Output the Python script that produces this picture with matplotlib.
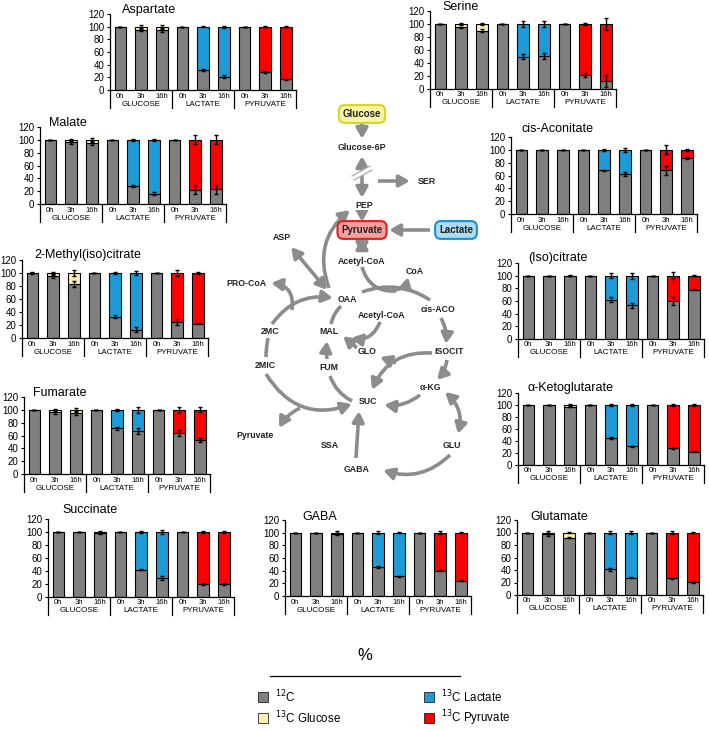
import matplotlib.pyplot as plt
from matplotlib.patches import FancyArrowPatch, Rectangle
import numpy as np

plt.rcParams['font.family'] = ['Liberation Sans', 'DejaVu Sans']

W, H = 709, 730

times = ['0h', '3h', '16h'] * 3
groups = ['GLUCOSE', 'LACTATE', 'PYRUVATE']
legend_labels = ['$^{12}$C', '$^{13}$C Glucose', '$^{13}$C Lactate', '$^{13}$C Pyruvate']
colors = ['#7f7f7f', '#fbeeb0', '#1e9bd7', '#ff0000']

# % 12C for each bar (glucose 0h,3h,16h | lactate ... | pyruvate ...); the rest is 13C from the tracer
aspartate = [100, 95, 94, 100, 31, 21, 100, 28, 17]
aspartate_err = [0, 2, 2, 0, 1.5, 2, 0, 1.5, 1]
aspartate_top = [0, 2, 2, 0, 1, 1.5, 0, 1, 1]

serine = [100, 95, 90, 100, 50, 51, 100, 22, 12]
serine_err = [0, 1, 2, 0, 4, 5, 0, 3, 9]
serine_top = [0, 1, 2, 0, 4, 5, 0, 2, 9]

malate = [100, 97, 95, 100, 28, 16, 100, 22, 23]
malate_err = [0, 3, 3, 0, 2, 2, 0, 7, 7]
malate_top = [0, 2, 3, 0, 2, 2, 0, 7, 7]

cis_aconitate = [100, 100, 100, 100, 68, 63, 100, 68, 87]
cis_aconitate_err = [0, 0, 0, 0, 1, 3, 0, 7, 2]
cis_aconitate_top = [0, 0, 0, 0, 2, 3, 0, 7, 2]

methylcitrate = [100, 95, 83, 100, 33, 13, 100, 25, 22]
methylcitrate_err = [1, 2, 5, 0, 2, 4, 0, 5, 1]
methylcitrate_top = [0, 2, 5, 0, 2, 3, 0, 4, 1]

isocitrate = [100, 100, 100, 100, 62, 53, 100, 60, 78]
isocitrate_err = [0, 0, 0, 0, 4, 4, 0, 6, 1]
isocitrate_top = [0, 0, 1, 0, 4, 5, 0, 6, 1]

fumarate = [100, 96, 95, 100, 71, 67, 100, 64, 53]
fumarate_err = [0, 2, 3, 0, 2, 5, 0, 4, 3]
fumarate_top = [0, 2, 3, 0, 2, 5, 0, 5, 4]

ketoglutarate = [100, 100, 97, 100, 45, 31, 100, 28, 22]
ketoglutarate_err = [0, 0, 1, 0, 1, 1, 0, 1, 1]
ketoglutarate_top = [0, 0, 1, 0, 1, 1, 0, 1, 1]

succinate = [100, 100, 98, 100, 42, 29, 100, 20, 20]
succinate_err = [0, 0, 1, 0, 1, 3, 0, 1, 1]
succinate_top = [0, 0, 1, 0, 2, 3, 0, 1, 1]

gaba = [100, 100, 98, 100, 46, 31, 100, 40, 24]
gaba_err = [0, 0, 2, 0, 1, 1, 0, 1, 1]
gaba_top = [0, 0, 2, 0, 2, 1, 0, 2, 1]

glutamate = [100, 97, 92, 100, 41, 28, 100, 27, 21]
glutamate_err = [0, 2, 1, 0, 2, 1, 0, 1, 1]
glutamate_top = [0, 2, 1, 0, 3, 2, 0, 2, 1]

# name, values, errors, y-axis x px, 120-line px, 0-line px, title pos px
panels = [
    ('Aspartate', aspartate, aspartate_err, aspartate_top, 110, 14, 90, (122, 10)),
    ('Serine', serine, serine_err, serine_top, 430, 11, 89, (442, 7)),
    ('Malate', malate, malate_err, malate_top, 40, 127, 204, (49, 123)),
    ('cis-Aconitate', cis_aconitate, cis_aconitate_err, cis_aconitate_top, 511, 137, 214, (522, 129)),
    ('2-Methyl(iso)citrate', methylcitrate, methylcitrate_err, methylcitrate_top, 22, 260, 338, (34, 255)),
    ('(Iso)citrate', isocitrate, isocitrate_err, isocitrate_top, 518, 263, 339, (528, 258)),
    ('Fumarate', fumarate, fumarate_err, fumarate_top, 24, 397, 474, (33, 393)),
    ('α-Ketoglutarate', ketoglutarate, ketoglutarate_err, ketoglutarate_top, 518, 393, 465, (528, 388)),
    ('Succinate', succinate, succinate_err, succinate_top, 48, 519, 597, (62, 510)),
    ('GABA', gaba, gaba_err, gaba_top, 285, 520, 596, (302, 517)),
    ('Glutamate', glutamate, glutamate_err, glutamate_top, 517, 520, 595, (530, 517)),
]

fig = plt.figure(figsize=(W / 100, H / 100), dpi=100)

# overlay for the pathway scheme and the legend
ov = fig.add_axes([0, 0, 1, 1])
ov.set_xlim(0, W)
ov.set_ylim(H, 0)
ov.axis('off')

GREY = '#8c8c8c'


def arrow(p0, p1, rad=0.0, style='-|>'):
    if style != '-':
        style = style + ',head_length=0.45,head_width=0.25'
    ov.add_patch(FancyArrowPatch(p0, p1, connectionstyle=f'arc3,rad={rad}', arrowstyle=style,
                                 mutation_scale=14, color=GREY, lw=2.6, shrinkA=0, shrinkB=0,
                                 capstyle='butt'))


# main axis glucose -> pyruvate
arrow((362, 122), (362, 139))
arrow((362, 156), (362, 198), style='<|-|>')
ov.plot([353, 371], [178, 168], color='white', lw=4)
ov.plot([352, 370], [176, 166], color='#a0a0a0', lw=0.8)
ov.plot([354, 372], [180, 170], color='#a0a0a0', lw=0.8)
arrow((378, 181), (410, 181))
arrow((362, 211), (362, 222))
arrow((430, 230), (389, 230))
arrow((362, 238), (362, 254), style='<|-|>')
arrow((362, 267), (396, 291), rad=0.4, style='-')
arrow((392, 290), (408, 277), rad=0.4)
# TCA cycle
arrow((362, 292), (430, 300), rad=-0.25, style='-')
arrow((441, 318), (446, 344), rad=-0.15)
arrow((447, 360), (437, 380), rad=-0.15)
arrow((420, 395), (384, 405), rad=-0.2)
arrow((352, 401), (330, 376), rad=-0.2, style='-')
arrow((327, 359), (327, 341), rad=-0.05)
arrow((331, 324), (341, 306), rad=-0.15, style='-')
# methylcitrate cycle
arrow((272, 324), (333, 298), rad=-0.3)
arrow((292, 310), (271, 283), rad=0.5)
arrow((268, 338), (266, 357), rad=0.05, style='-')
arrow((266, 374), (352, 404), rad=0.4)
arrow((300, 408), (279, 428), rad=0.15)
# glyoxylate shunt
arrow((432, 353), (372, 390), rad=0.35)
arrow((396, 363), (380, 357))
arrow((357, 348), (343, 336))
arrow((380, 322), (351, 338), rad=-0.4)
# side branches
arrow((329, 288), (350, 210), rad=-0.35)
arrow((291, 247), (327, 290), style='<|-|>')
arrow((445, 392), (458, 434), rad=-0.3, style='<|-|>')
arrow((450, 455), (383, 470), rad=-0.3)
arrow((356, 458), (359, 411))

nodes = [('Glucose-6P', 362, 148), ('SER', 427, 181), ('PEP', 364, 205), ('ASP', 282, 237),
         ('Acetyl-CoA', 362, 261), ('CoA', 415, 272), ('PRO-CoA', 246, 283), ('OAA', 347, 299),
         ('cis-ACO', 438, 310), ('Acetyl-CoA', 382, 316), ('2MC', 270, 331), ('MAL', 329, 332),
         ('GLO', 367, 352), ('ISOCIT', 449, 352), ('2MIC', 265, 365), ('FUM', 329, 367),
         ('α-KG', 430, 388), ('SUC', 368, 402), ('Pyruvate', 255, 435), ('SSA', 330, 446),
         ('GLU', 452, 445), ('GABA', 357, 470)]
for txt, x, y in nodes:
    ov.text(x, y, txt, ha='center', va='center', fontsize=6.3, fontweight='bold', color='#222222',
            bbox=dict(boxstyle='square,pad=0.1', fc='white', ec='none'))

boxes = [('Glucose', 362, 114, '#f6f6a6', '#d6d61e'),
         ('Pyruvate', 362, 230, '#f4a0a0', '#e02020'),
         ('Lactate', 456, 230, '#b0dcf2', '#1e8fd0')]
for txt, x, y, fc, ec in boxes:
    ov.text(x, y, txt, ha='center', va='center', fontsize=7, fontweight='bold', color='#222222',
            bbox=dict(boxstyle='round,pad=0.4,rounding_size=0.6', fc=fc, ec=ec, lw=1.5))

# legend
ov.text(365, 655, '%', ha='center', va='center', fontsize=12)
ov.plot([270, 460], [676, 676], color='black', lw=0.9)
legend_pos = [(258, 692), (258, 713), (424, 692), (424, 713)]
for lab, col, (x, y) in zip(legend_labels, colors, legend_pos):
    ov.add_patch(Rectangle((x, y), 10, 10, fc=col, ec='black', lw=0.5))
    ov.text(x + 17, y + 5, lab, ha='left', va='center', fontsize=8.3)

x = np.arange(9)
for name, vals, err, top, ax_x, top_px, bot_px, (tx, ty) in panels:
    hpx = bot_px - top_px
    wpx = 9 * 20.7
    ax = fig.add_axes([ax_x / W, 1 - bot_px / H, wpx / W, hpx / H])
    vals = np.array(vals, dtype=float)
    top_cols = [colors[1 + i // 3] for i in range(9)]
    ax.bar(x, vals, width=0.56, color=colors[0], edgecolor='black', lw=0.8, zorder=2)
    ax.bar(x, 100 - vals, bottom=vals, width=0.56, color=top_cols, edgecolor='black', lw=0.8, zorder=2)
    ax.errorbar(x, vals, yerr=err, fmt='none', ecolor='black', elinewidth=1, capsize=1.3, zorder=3)
    ax.errorbar(x, np.full(9, 100.0), yerr=top, fmt='none', ecolor='black', elinewidth=1,
                capsize=1.3, zorder=3)
    ax.set_xlim(-0.5, 8.5)
    ax.set_ylim(0, 120)
    ax.set_yticks(range(0, 121, 20))
    ax.tick_params(axis='y', labelsize=7, length=2.5, width=0.8, pad=1.5)
    ax.set_xticks([])
    ax.patch.set_alpha(0)
    for s in ['top', 'right']:
        ax.spines[s].set_visible(False)
    ax.spines['left'].set_linewidth(0.9)
    ax.spines['bottom'].set_linewidth(0.9)
    trans = ax.get_xaxis_transform()
    for sx in [-0.5, 2.5, 5.5, 8.5]:
        ax.plot([sx, sx], [0, -18 / hpx], color='black', lw=0.9, transform=trans, clip_on=False)
    for i, t in enumerate(times):
        ax.text(i, -6 / hpx, t, transform=trans, ha='center', va='center', fontsize=5.5)
    for g, gname in enumerate(groups):
        ax.text(3 * g + 1, -14 / hpx, gname, transform=trans, ha='center', va='center', fontsize=5.8)
    fig.text(tx / W, 1 - ty / H, name, ha='left', va='center', fontsize=9)

fig.savefig('out.png', dpi=100)
